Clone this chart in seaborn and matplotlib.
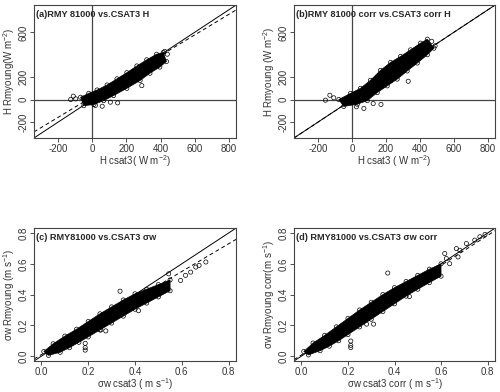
import numpy as np
import matplotlib
matplotlib.use("Agg")
import matplotlib.pyplot as plt
import seaborn as sns

# ---- data (band envelopes + scattered points) ----
# (a) H, uncorrected
a_up_x = [-70, -22, 27, 86, 144, 202, 261, 319, 377, 416]
a_up_y = [20, 55, 85, 130, 185, 240, 300, 355, 405, 420]
a_lo_x = [-51, 8, 66, 124, 202, 280, 338, 396, 435]
a_lo_y = [-55, -45, -10, 35, 100, 170, 235, 290, 340]
a_out_x = [-128, -113, -99, 17, 57, 105, 148, 290, 440, 425]
a_out_y = [0, 30, 6, -53, -60, -24, -30, 124, 405, 430]

# (b) H, corrected
b_up_x = [-79, -10, 49, 108, 167, 227, 286, 345, 404, 444]
b_up_y = [0, 55, 100, 172, 260, 332, 385, 444, 504, 539]
b_lo_x = [-50, 30, 89, 148, 207, 266, 325, 385, 444, 483]
b_lo_y = [-62, -42, -10, 62, 122, 182, 255, 326, 400, 459]
b_out_x = [-158, -132, -109, 25, 69, 124, 170, 331, 490, 470]
b_out_y = [-6, 38, 15, -65, -80, -36, -44, 163, 480, 520]

# (c) sigma_w, uncorrected
c_up_x = [0.01, 0.05, 0.10, 0.15, 0.20, 0.25, 0.30, 0.35, 0.40, 0.45, 0.50, 0.55]
c_up_y = [0.03, 0.08, 0.13, 0.175, 0.225, 0.275, 0.32, 0.365, 0.405, 0.435, 0.465, 0.495]
c_lo_x = [0.03, 0.08, 0.12, 0.16, 0.20, 0.25, 0.30, 0.35, 0.40, 0.45, 0.50, 0.55]
c_lo_y = [0.005, 0.025, 0.055, 0.09, 0.125, 0.17, 0.215, 0.26, 0.305, 0.345, 0.385, 0.425]
c_out_x = [0.595, 0.616, 0.638, 0.660, 0.674, 0.703, 0.544, 0.336, 0.254, 0.275,
           0.187, 0.187, 0.187, 0.415]
c_out_y = [0.492, 0.525, 0.546, 0.579, 0.590, 0.612, 0.535, 0.422, 0.170, 0.164,
           0.083, 0.055, 0.039, 0.295]

# (d) sigma_w, corrected
d_up_x = [0.01, 0.05, 0.10, 0.15, 0.20, 0.25, 0.30, 0.35, 0.40, 0.45, 0.50, 0.55, 0.60]
d_up_y = [0.03, 0.085, 0.135, 0.19, 0.245, 0.30, 0.35, 0.40, 0.445, 0.485, 0.525, 0.565, 0.60]
d_lo_x = [0.03, 0.08, 0.12, 0.16, 0.20, 0.25, 0.30, 0.35, 0.40, 0.45, 0.50, 0.55, 0.60]
d_lo_y = [0.008, 0.035, 0.065, 0.10, 0.14, 0.19, 0.24, 0.29, 0.34, 0.39, 0.435, 0.478, 0.52]
d_out_x = [0.616, 0.623, 0.666, 0.681, 0.709, 0.745, 0.767, 0.789, 0.673, 0.637,
           0.371, 0.280, 0.310, 0.212, 0.212, 0.212, 0.464]
d_out_y = [0.667, 0.634, 0.699, 0.688, 0.732, 0.754, 0.776, 0.791, 0.645, 0.601,
           0.540, 0.208, 0.208, 0.098, 0.070, 0.055, 0.387]

titles = ["(a)RMY 81000 vs.CSAT3 H", "(b)RMY 81000 corr vs.CSAT3 corr H",
          "(c) RMY81000 vs.CSAT3 σw", "(d) RMY81000 vs.CSAT3 σw corr"]
xlabels = ["H csat3( W m$^{-2}$)", "H csat3 ( W m$^{-2}$)",
           "σw csat3 ( m s$^{-1}$)", "σw csat3 corr ( m s$^{-1}$)"]
ylabels = ["H Rmyoung(W m$^{-2}$)", "H Rmyoung (W m$^{-2}$)",
           "σw Rmyoung (m s$^{-1}$)", "σw Rmyoung corr(m s$^{-1}$)"]
# regression (dashed) lines: slope, intercept
fits = [(0.917, 26), (1.0, 0), (0.90, 0.01), (0.97, 0.008)]

sns.set_theme(style="white")
plt.rcParams['font.family'] = ['Liberation Sans', 'DejaVu Sans']
plt.rcParams['mathtext.default'] = 'regular'

fig = plt.figure(figsize=(5, 3.92), dpi=100)
boxes = [[0.068, 0.648, 0.404, 0.339], [0.588, 0.648, 0.402, 0.339],
         [0.068, 0.079, 0.404, 0.339], [0.588, 0.079, 0.402, 0.339]]

panels = [
    (a_up_x, a_up_y, a_lo_x, a_lo_y, a_out_x, a_out_y),
    (b_up_x, b_up_y, b_lo_x, b_lo_y, b_out_x, b_out_y),
    (c_up_x, c_up_y, c_lo_x, c_lo_y, c_out_x, c_out_y),
    (d_up_x, d_up_y, d_lo_x, d_lo_y, d_out_x, d_out_y),
]

for i, (ux, uy, lx, ly, ox, oy) in enumerate(panels):
    ax = fig.add_axes(boxes[i])
    heat = i < 2
    lim = (-344, 844) if heat else (-0.032, 0.832)
    ax.set_xlim(lim)
    ax.set_ylim(lim)

    if heat:
        ax.axhline(0, color="#444444", lw=0.9)
        ax.axvline(0, color="#444444", lw=0.9)

    # dense core of the point cloud
    ax.fill(list(ux) + list(lx)[::-1], list(uy) + list(ly)[::-1],
            color="black", lw=0.5, ec="black", zorder=3)
    # scattered open circles: cloud edges and outliers
    sns.scatterplot(x=list(ux) + list(lx) + list(ox), y=list(uy) + list(ly) + list(oy),
                    ax=ax, marker="o", s=9, facecolor="none", edgecolor="black",
                    linewidth=0.5, zorder=4)

    ax.axline((0, 0), slope=1, color="black", lw=0.7, zorder=2)
    m, b = fits[i]
    ax.axline((0, b), slope=m, color="black", lw=0.7, ls=(0, (4, 3)), zorder=2)

    if heat:
        ax.set_xticks([-200, 0, 200, 400, 600, 800])
        ax.set_yticks([-200, 0, 200, 600])
        ax.set_yticklabels(["-200", "0", "200", "600"])
        ax.set_xticklabels(["-200", "0", "200", "400", "600", "800"])
    else:
        ticks = [0.0, 0.2, 0.4, 0.6, 0.8]
        ax.set_xticks(ticks)
        ax.set_yticks(ticks)
        ax.set_xticklabels(["0.0", "0.2", "0.4", "0.6", "0.8"])
        ax.set_yticklabels(["0.0", "0.2", "0.4", "0.6", "0.8"])

    ax.tick_params(axis="both", which="both", direction="out", length=3, width=0.6,
                   labelsize=7, pad=1, color="#333333", labelcolor="#333333",
                   bottom=True, left=True)
    for lab in ax.get_yticklabels():
        lab.set_rotation(90)
        lab.set_va("center")
    for sp in ax.spines.values():
        sp.set_color("#444444")
        sp.set_linewidth(0.8)

    ax.set_xlabel(xlabels[i], fontsize=7, labelpad=0, color="#333333")
    ax.set_ylabel(ylabels[i], fontsize=7, labelpad=1, color="#333333")
    ax.text(0.008, 0.965, titles[i], transform=ax.transAxes, fontsize=6.6,
            fontweight="bold", va="top", ha="left", zorder=6)

fig.savefig("out.png", dpi=100)
